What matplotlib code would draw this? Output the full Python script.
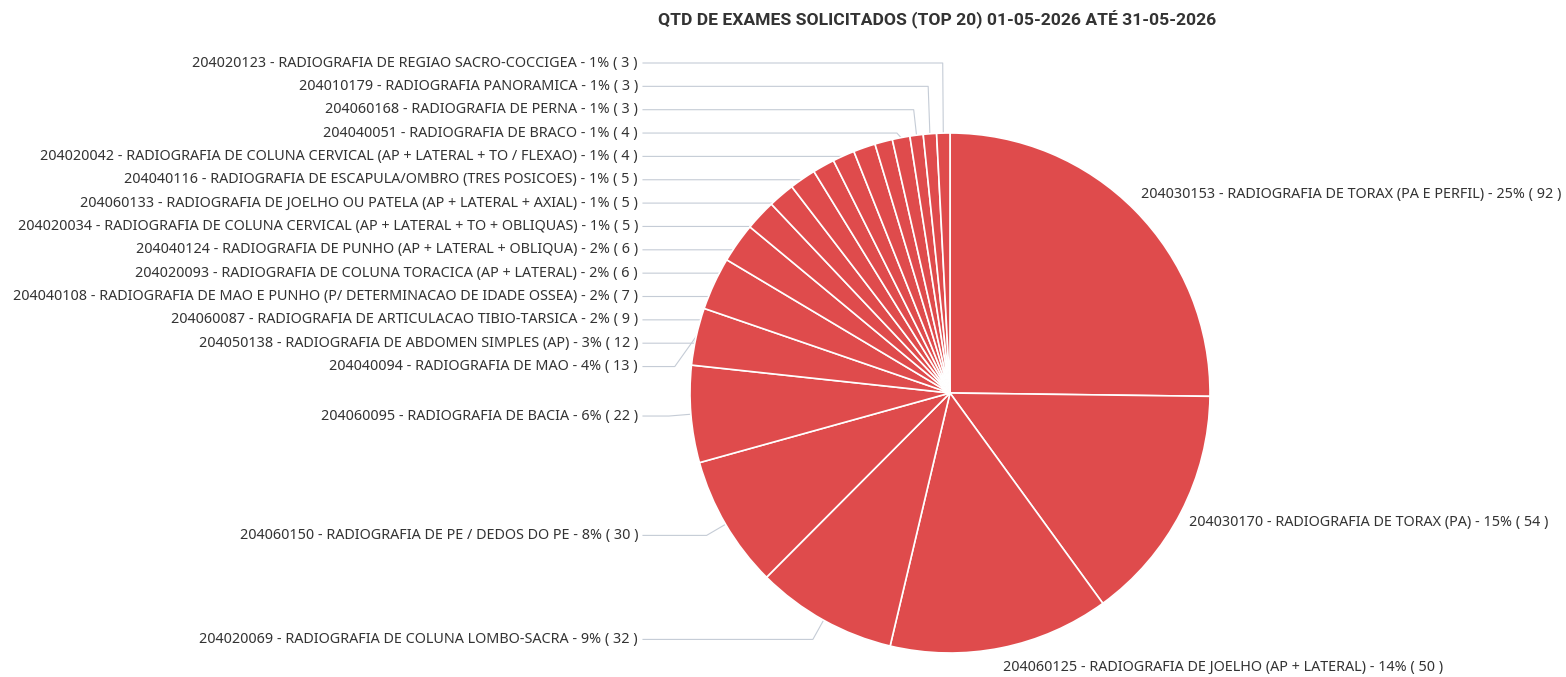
import numpy as np
import matplotlib
matplotlib.use("Agg")
import matplotlib.pyplot as plt

plt.rcParams['font.family'] = ['Noto Sans', 'DejaVu Sans']

codes = ['204030153', '204030170', '204060125', '204020069', '204060150',
         '204060095', '204040094', '204050138', '204060087', '204040108',
         '204020093', '204040124', '204020034', '204060133', '204040116',
         '204020042', '204040051', '204060168', '204010179', '204020123']
names = ['RADIOGRAFIA DE TORAX (PA E PERFIL)',
         'RADIOGRAFIA DE TORAX (PA)',
         'RADIOGRAFIA DE JOELHO (AP + LATERAL)',
         'RADIOGRAFIA DE COLUNA LOMBO-SACRA',
         'RADIOGRAFIA DE PE / DEDOS DO PE',
         'RADIOGRAFIA DE BACIA',
         'RADIOGRAFIA DE MAO',
         'RADIOGRAFIA DE ABDOMEN SIMPLES (AP)',
         'RADIOGRAFIA DE ARTICULACAO TIBIO-TARSICA',
         'RADIOGRAFIA DE MAO E PUNHO (P/ DETERMINACAO DE IDADE OSSEA)',
         'RADIOGRAFIA DE COLUNA TORACICA (AP + LATERAL)',
         'RADIOGRAFIA DE PUNHO (AP + LATERAL + OBLIQUA)',
         'RADIOGRAFIA DE COLUNA CERVICAL (AP + LATERAL + TO + OBLIQUAS)',
         'RADIOGRAFIA DE JOELHO OU PATELA (AP + LATERAL + AXIAL)',
         'RADIOGRAFIA DE ESCAPULA/OMBRO (TRES POSICOES)',
         'RADIOGRAFIA DE COLUNA CERVICAL (AP + LATERAL + TO / FLEXAO)',
         'RADIOGRAFIA DE BRACO',
         'RADIOGRAFIA DE PERNA',
         'RADIOGRAFIA PANORAMICA',
         'RADIOGRAFIA DE REGIAO SACRO-COCCIGEA']
counts = [92, 54, 50, 32, 30, 22, 13, 12, 9, 7, 6, 6, 5, 5, 5, 4, 4, 3, 3, 3]
title = 'QTD DE EXAMES SOLICITADOS (TOP 20) 01-05-2026 ATÉ 31-05-2026'

W, H = 1566, 677
cx, cy_down, r = 950, 393, 260
cy = H - cy_down

fig = plt.figure(figsize=(W / 100, H / 100), dpi=100)
ax = fig.add_axes([0, 0, 1, 1])

wedges, _ = ax.pie(counts, center=(cx, cy), radius=r, startangle=90,
                   counterclock=False, colors=['#df4b4c'] * len(counts),
                   wedgeprops=dict(edgecolor='white', linewidth=1.2))
ax.set_xlim(0, W)
ax.set_ylim(0, H)
ax.set_aspect('equal')
ax.axis('off')

total = sum(counts)
labels = [f'{c} - {n} - {round(v / total * 100)}% ( {v} )'
          for c, n, v in zip(codes, names, counts)]

txt_color = '#333333'
fs = 10.35
dist = 22

left, right = [], []
for i, w in enumerate(wedges):
    a = np.deg2rad((w.theta1 + w.theta2) / 2)
    ideal = cy_down - (r + dist) * np.sin(a)
    ex, ey = cx + r * np.cos(a), cy_down - r * np.sin(a)
    bx = cx + (r + dist) * np.cos(a)
    item = dict(i=i, a=a, ideal=ideal, ex=ex, ey=ey, bx=bx)
    (left if np.cos(a) < 0 else right).append(item)

# spread the left labels so they do not overlap
left.sort(key=lambda d: d['ideal'])
gap, top, bottom = 23.35, 63, 660
ys = [d['ideal'] for d in left]
ys[-1] = min(ys[-1], bottom)
for k in range(len(ys) - 2, -1, -1):
    ys[k] = min(ys[k], ys[k + 1] - gap)
ys[0] = max(ys[0], top)
for k in range(1, len(ys)):
    ys[k] = max(ys[k], ys[k - 1] + gap)

lx = 638
for d, y in zip(left, ys):
    ax.text(lx, H - y, labels[d['i']], ha='right', va='center',
            fontsize=fs, color=txt_color)
    ax.plot([lx + 5, d['bx'], d['ex']], [H - y, H - y, H - d['ey']],
            color='#c5ccd6', lw=0.8, zorder=0)

for d in right:
    x = cx + (r + 9) * np.cos(d['a'])
    y = min(d['ideal'], 667)
    ax.text(x, H - y, labels[d['i']], ha='left', va='center',
            fontsize=fs, color=txt_color)

ax.text(937, H - 20, title, ha='center', va='center', fontsize=12.6,
        fontweight='bold', family=['Roboto', 'DejaVu Sans'], color='#333333')

fig.savefig('out.png', dpi=100, facecolor='white')
